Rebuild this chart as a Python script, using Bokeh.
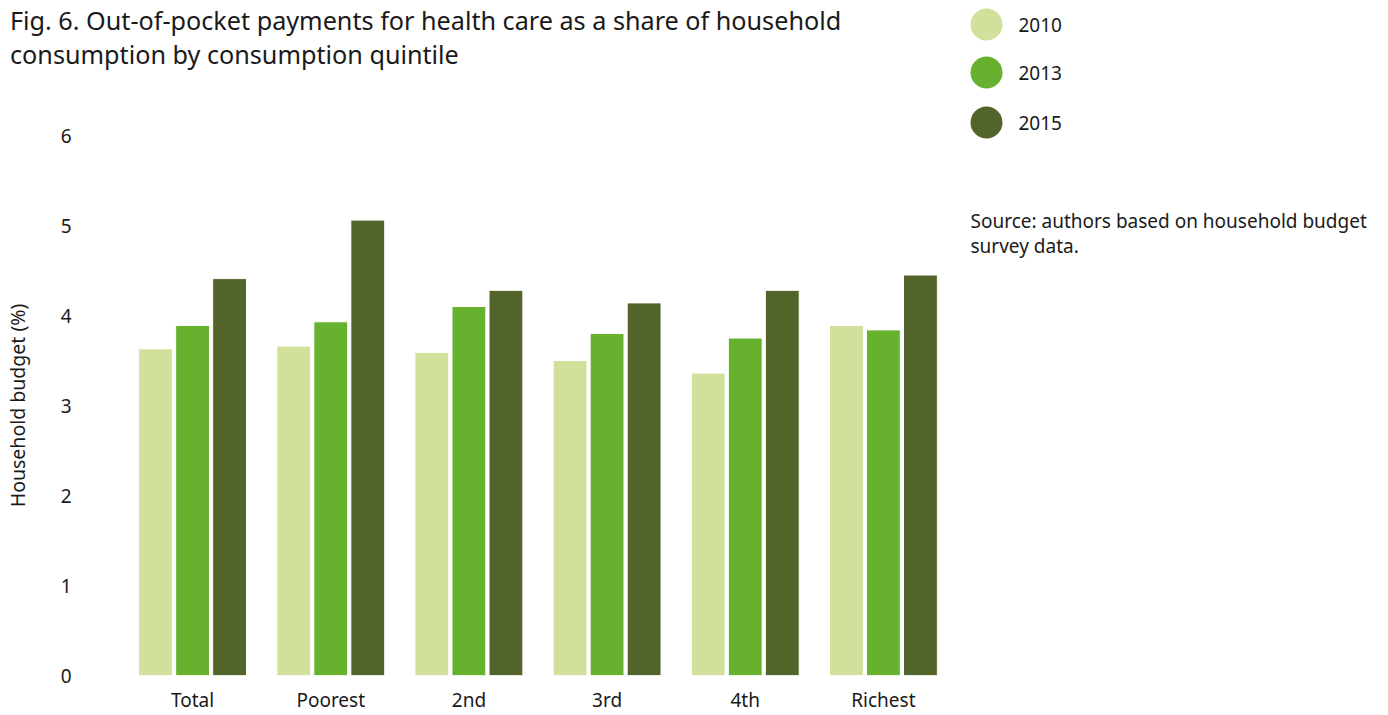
from bokeh.plotting import figure
from bokeh.models import ColumnDataSource, FactorRange, Range1d, FixedTicker, Div
from bokeh.transform import dodge
from bokeh.layouts import row, column
from bokeh.embed import file_html
from bokeh.resources import INLINE
from bokeh.core.properties import value

categories = ["Total", "Poorest", "2nd", "3rd", "4th", "Richest"]
years = ["2010", "2013", "2015"]
v2010 = [3.63, 3.66, 3.59, 3.50, 3.36, 3.89]
v2013 = [3.89, 3.93, 4.10, 3.80, 3.75, 3.84]
v2015 = [4.41, 5.06, 4.28, 4.14, 4.28, 4.45]
colors = ["#d1e09b", "#66b22f", "#52642a"]
y_ticks = [0, 1, 2, 3, 4, 5, 6]
title_lines = ["Fig. 6. Out-of-pocket payments for health care as a share of household",
               "consumption by consumption quintile"]
source_lines = ["Source: authors based on household budget", "survey data."]

FONT = "Noto Sans"
TXT = "#1a1a1a"

src = ColumnDataSource(dict(cat=categories, y2010=v2010, y2013=v2013, y2015=v2015))

title_div = Div(text="<br>".join(title_lines), width=960, height=88, margin=0,
                styles={"font-family": FONT, "font-size": "25.2px", "line-height": "34px",
                        "color": TXT, "padding-left": "10px", "padding-top": "3px",
                        "white-space": "nowrap"})

p = figure(x_range=FactorRange(factors=categories, range_padding=0),
           y_range=Range1d(0, 6), width=960, height=627,
           output_backend="svg", toolbar_location=None,
           min_border_left=122, min_border_right=8, min_border_top=47, min_border_bottom=40)

for yr, col, off in zip(years, colors, [-0.268, 0.0, 0.268]):
    p.vbar(x=dodge("cat", off, range=p.x_range), top="y" + yr, width=0.245, bottom=0,
           source=src, fill_color=col, line_color="white", line_width=1)

p.outline_line_color = None
p.grid.visible = False
p.background_fill_color = "white"
p.border_fill_color = "white"

p.yaxis.ticker = FixedTicker(ticks=y_ticks)
p.yaxis.axis_label = "Household budget (%)"
for ax in (p.xaxis[0], p.yaxis[0]):
    ax.axis_line_color = None
    ax.major_tick_line_color = None
    ax.minor_tick_line_color = None
    ax.major_tick_out = 0
    ax.major_tick_in = 0
    ax.minor_tick_out = 0
    ax.minor_tick_in = 0
    ax.major_label_text_font = FONT
    ax.major_label_text_font_size = "19px"
    ax.major_label_text_color = TXT
p.yaxis.major_label_standoff = 52
p.yaxis.axis_label_text_font = FONT
p.yaxis.axis_label_text_font_size = "19.5px"
p.yaxis.axis_label_text_font_style = "normal"
p.yaxis.axis_label_text_color = TXT
p.yaxis.axis_label_standoff = 27
p.xaxis.major_label_standoff = 11

# legend / source panel
L = figure(width=428, height=715, x_range=Range1d(0, 428), y_range=Range1d(715, 0),
           output_backend="svg", toolbar_location=None,
           min_border_left=0, min_border_right=0, min_border_top=0, min_border_bottom=0)
L.axis.visible = False
L.grid.visible = False
L.outline_line_color = None
lsrc = ColumnDataSource(dict(x=[26, 26, 26], y=[24, 72, 122], lx=[58, 58, 58], label=years, color=colors))
L.scatter(x="x", y="y", size=32, marker="circle", fill_color="color", line_color=None, source=lsrc)
L.text(x="lx", y="y", text="label", source=lsrc, text_font=value(FONT), text_font_size="19px",
       text_color=TXT, text_baseline="middle", text_align="left")
ssrc = ColumnDataSource(dict(x=[10, 10], y=[220, 245], t=source_lines))
L.text(x="x", y="y", text="t", source=ssrc, text_font=value(FONT), text_font_size="19px",
       text_color=TXT, text_baseline="alphabetic", text_align="left")

layout = row(column(title_div, p, spacing=0), L, spacing=0)
open("out.html", "w").write(file_html(layout, INLINE))
